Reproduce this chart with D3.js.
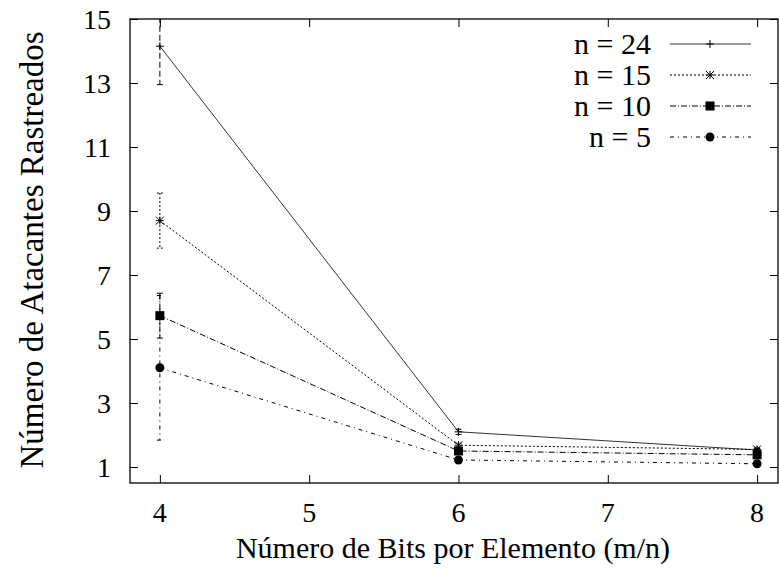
<!DOCTYPE html>
<html>
<head>
<meta charset="utf-8">
<script src="https://cdn.jsdelivr.net/npm/d3@7"></script>
</head>
<body style="margin:0">
<svg id="chart" width="779" height="576"></svg>
<script>
var xValues = [4, 6, 8];
var xTicks = [4, 5, 6, 7, 8];
var yTicks = [1, 3, 5, 7, 9, 11, 13, 15];
var seriesNames = ['n = 24', 'n = 15', 'n = 10', 'n = 5'];
var n24 = [14.15, 2.1, 1.53];
var n15 = [8.7, 1.68, 1.55];
var n10 = [5.73, 1.5, 1.38];
var n5 = [4.1, 1.22, 1.1];
var err24 = [1.2, 0.08, 0.05];
var err15 = [0.86, 0.06, 0.05];
var err10 = [0.7, 0.05, 0.04];
var err5 = [2.26, 0.04, 0.03];

var fontName = '"Liberation Serif"';
var svg = d3.select('#chart');
var pLeft = 130, pRight = 778, pTop = 19, pBottom = 483;

var x = d3.scaleLinear().domain([3.8, 8.14]).range([pLeft, pRight]);
var y = d3.scaleLinear().domain([0.5, 15]).range([pBottom, pTop]);

var series = [
    {name: seriesNames[0], vals: n24, err: err24, dash: null, marker: 'plus'},
    {name: seriesNames[1], vals: n15, err: err15, dash: '2,2', marker: 'star'},
    {name: seriesNames[2], vals: n10, err: err10, dash: '6,2,1,2', marker: 'square'},
    {name: seriesNames[3], vals: n5, err: err5, dash: '4,4,1,4', marker: 'circle'}
];

svg.append('defs').append('clipPath').attr('id', 'clip')
    .append('rect').attr('x', pLeft).attr('y', pTop)
    .attr('width', pRight - pLeft).attr('height', pBottom - pTop);

// inward ticks, mirrored on all four sides
var axes = svg.append('g');
axes.append('g').attr('transform', 'translate(0,' + pBottom + ')')
    .call(d3.axisTop(x).tickValues(xTicks).tickSize(8).tickFormat(''));
axes.append('g').attr('transform', 'translate(0,' + pTop + ')')
    .call(d3.axisBottom(x).tickValues(xTicks).tickSize(8).tickFormat(''));
axes.append('g').attr('transform', 'translate(' + pLeft + ',0)')
    .call(d3.axisRight(y).tickValues(yTicks).tickSize(8).tickFormat(''));
axes.append('g').attr('transform', 'translate(' + pRight + ',0)')
    .call(d3.axisLeft(y).tickValues(yTicks).tickSize(8).tickFormat(''));
axes.selectAll('.domain').remove();
axes.selectAll('.tick text').remove();
axes.selectAll('.tick line').attr('stroke', '#000');

svg.append('rect').attr('x', pLeft).attr('y', pTop)
    .attr('width', pRight - pLeft).attr('height', pBottom - pTop)
    .attr('fill', 'none').attr('stroke', '#000').attr('stroke-width', 1.3);

// tick labels and titles
svg.selectAll('.xlab').data(xTicks).enter().append('text')
    .attr('x', function(d) { return x(d); }).attr('y', 522)
    .attr('text-anchor', 'middle').attr('font-size', 28).style('font-family', fontName)
    .text(function(d) { return d; });
svg.selectAll('.ylab').data(yTicks).enter().append('text')
    .attr('x', 111).attr('y', function(d) { return y(d) + 10; })
    .attr('text-anchor', 'end').attr('font-size', 28).style('font-family', fontName)
    .text(function(d) { return d; });

svg.append('text').attr('x', 453).attr('y', 558)
    .attr('text-anchor', 'middle').attr('font-size', 30).style('font-family', fontName)
    .text('Número de Bits por Elemento (m/n)');
svg.append('text').attr('transform', 'translate(43,250) rotate(-90)')
    .attr('text-anchor', 'middle').attr('font-size', 33).style('font-family', fontName)
    .text('Número de Atacantes Rastreados');

function drawMarker(g, kind, cx, cy) {
    if (kind == 'plus') {
        g.append('path').attr('d', 'M' + (cx - 4) + ',' + cy + 'h8M' + cx + ',' + (cy - 4) + 'v8')
            .attr('stroke', '#000').attr('stroke-width', 1);
    } else if (kind == 'star') {
        g.append('path').attr('d', 'M' + (cx - 4) + ',' + cy + 'h8M' + cx + ',' + (cy - 4) + 'v8' +
            'M' + (cx - 4) + ',' + (cy - 4) + 'l8,8M' + (cx - 4) + ',' + (cy + 4) + 'l8,-8')
            .attr('stroke', '#000').attr('stroke-width', 1);
    } else if (kind == 'square') {
        g.append('rect').attr('x', cx - 4.5).attr('y', cy - 4.5).attr('width', 9).attr('height', 9)
            .attr('fill', '#000');
    } else {
        g.append('circle').attr('cx', cx).attr('cy', cy).attr('r', 4.5).attr('fill', '#000');
    }
}

var plot = svg.append('g').attr('clip-path', 'url(#clip)');
var line = d3.line().x(function(d) { return x(d[0]); }).y(function(d) { return y(d[1]); });

series.forEach(function(s) {
    var pts = xValues.map(function(v, i) { return [v, s.vals[i]]; });
    plot.append('path').datum(pts).attr('d', line)
        .attr('fill', 'none').attr('stroke', s.dash ? '#000' : '#333')
        .attr('stroke-width', 1).attr('stroke-dasharray', s.dash);
    xValues.forEach(function(v, i) {
        var y1 = y(s.vals[i] + s.err[i]), y2 = y(s.vals[i] - s.err[i]);
        var cx = x(v);
        plot.append('path')
            .attr('d', 'M' + cx + ',' + y1 + 'V' + y2 + 'M' + (cx - 3) + ',' + y1 + 'h6M' + (cx - 3) + ',' + y2 + 'h6')
            .attr('fill', 'none').attr('stroke', '#000').attr('stroke-width', 1)
            .attr('stroke-dasharray', s.dash ? s.dash : '6,3');
        drawMarker(plot, s.marker, cx, y(s.vals[i]));
    });
});

// legend
var legend = svg.append('g');
series.forEach(function(s, i) {
    var ly = 44 + i * 31;
    legend.append('text').attr('x', 651).attr('y', ly + 10)
        .attr('text-anchor', 'end').attr('font-size', 30).style('font-family', fontName).text(s.name);
    legend.append('path').attr('d', 'M670,' + ly + 'H751')
        .attr('stroke', s.dash ? '#000' : '#333').attr('stroke-width', 1)
        .attr('stroke-dasharray', s.dash);
    drawMarker(legend, s.marker, 710, ly);
});
</script>
</body>
</html>
